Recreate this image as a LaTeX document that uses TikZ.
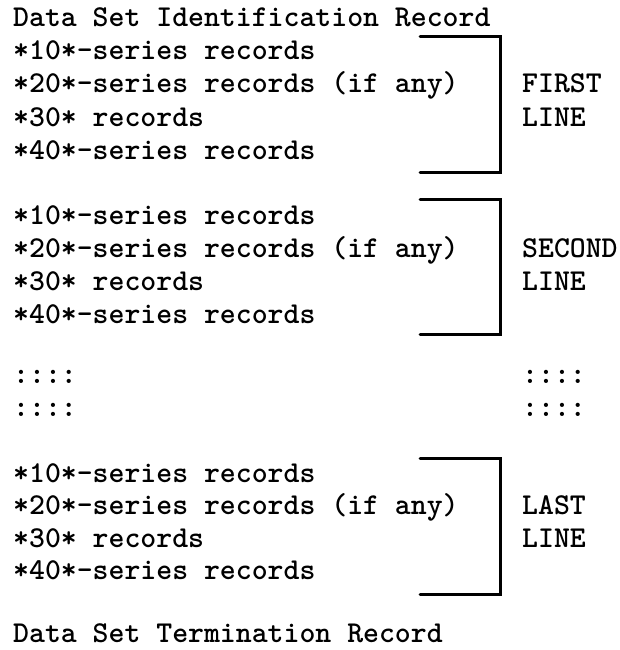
\documentclass[tikz,border=0pt]{standalone}
\tikzset{
  txt/.style={anchor=base west, inner sep=0pt, font=\ttfamily\bfseries\fontsize{30.3}{36}\selectfont},
  brk/.style={line width=3pt, line cap=round, line join=miter},
}
\begin{document}
\begin{tikzpicture}[x=1pt,y=-1pt]
\useasboundingbox (0,0) rectangle (619,650);
% title
\node[txt] (title) at (13,26.5) {Data Set Identification Record};
% block 1
\node[txt] (a10) at (13,60)  {*10*-series records};
\node[txt] (a20) at (13,93)  {*20*-series records (if any)};
\node[txt] (a30) at (13,126) {*30* records};
\node[txt] (a40) at (13,159) {*40*-series records};
\node[txt] (first) at (522,93)  {FIRST};
\node[txt] (firstl) at (522,126) {LINE};
% block 2
\node[txt] (b10) at (13,224) {*10*-series records};
\node[txt] (b20) at (13,257) {*20*-series records (if any)};
\node[txt] (b30) at (13,290) {*30* records};
\node[txt] (b40) at (13,323) {*40*-series records};
\node[txt] (second) at (522,257) {SECOND};
\node[txt] (secondl) at (522,290) {LINE};
% ellipsis rows
\node[txt] (dl1) at (13,383) {::::};
\node[txt] (dl2) at (13,416) {::::};
\node[txt] (dr1) at (522,383) {::::};
\node[txt] (dr2) at (522,416) {::::};
% block 3
\node[txt] (c10) at (13,482) {*10*-series records};
\node[txt] (c20) at (13,514) {*20*-series records (if any)};
\node[txt] (c30) at (13,547) {*30* records};
\node[txt] (c40) at (13,579) {*40*-series records};
\node[txt] (last) at (522,514) {LAST};
\node[txt] (lastl) at (522,547) {LINE};
% end
\node[txt] (term) at (13,642) {Data Set Termination Record};
% brackets
\coordinate (p1a) at (420,37);  \coordinate (p1b) at (500,37);
\coordinate (p1c) at (500,172); \coordinate (p1d) at (420,172);
\coordinate (p2a) at (420,199); \coordinate (p2b) at (500,199);
\coordinate (p2c) at (500,334); \coordinate (p2d) at (420,334);
\coordinate (p3a) at (420,458); \coordinate (p3b) at (500,458);
\coordinate (p3c) at (500,594); \coordinate (p3d) at (420,594);
\draw[brk] (p1a) -- (p1b) -- (p1c) -- (p1d);
\draw[brk] (p2a) -- (p2b) -- (p2c) -- (p2d);
\draw[brk] (p3a) -- (p3b) -- (p3c) -- (p3d);
\end{tikzpicture}
\end{document}
